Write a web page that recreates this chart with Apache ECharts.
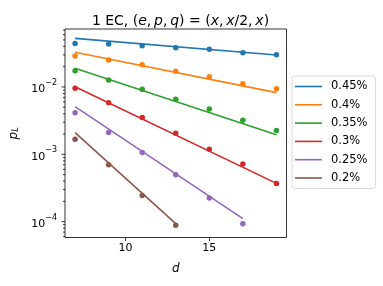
<!DOCTYPE html>
<html>
<head>
<meta charset="utf-8">
<script src="https://cdn.jsdelivr.net/npm/echarts@6/dist/echarts.min.js"></script>
<style>html,body{margin:0;padding:0;background:#fff}#c{width:383px;height:286px}</style>
</head>
<body>
<div id="c"></div>
<script>
// ---- data ----
var dValues = [7, 9, 11, 13, 15, 17, 19];
var seriesNames = ['0.45%', '0.4%', '0.35%', '0.3%', '0.25%', '0.2%'];
var p045 = [0.0443, 0.0434, 0.0409, 0.0382, 0.0362, 0.0322, 0.0301];
var p040 = [0.0288, 0.0251, 0.0214, 0.0171, 0.0142, 0.0112, 0.00944];
var p035 = [0.0174, 0.0127, 0.00924, 0.00657, 0.00472, 0.00321, 0.00225];
var p030 = [0.00957, 0.00585, 0.00351, 0.00206, 0.00119, 0.000716, 0.00037];
var p025 = [0.00416, 0.0021, 0.00106, 0.000497, 0.000224, 0.0000933];
var p020 = [0.00168, 0.000698, 0.000245, 0.0000881];
// fitted lines (straight on log scale): endpoints [d, value]
var fitD045 = [7, 19], fit045 = [0.0527, 0.0298];
var fitD040 = [7, 19], fit040 = [0.0327, 0.00824];
var fitD035 = [7, 19], fit035 = [0.0189, 0.00195];
var fitD030 = [7, 19], fit030 = [0.0101, 0.00037];
var fitD025 = [7, 17], fit025 = [0.0051, 0.000111];
var fitD020 = [7, 13], fit020 = [0.0021, 0.0000933];
var xTicks = [10, 15];
var yTickExps = [-4, -3, -2];

var colors = ['#1f77b4', '#ff7f0e', '#2ca02c', '#d62728', '#9467bd', '#8c564b'];
var pts = [p045, p040, p035, p030, p025, p020];
var fitDs = [fitD045, fitD040, fitD035, fitD030, fitD025, fitD020];
var fits = [fit045, fit040, fit035, fit030, fit025, fit020];

var xMin = 6.4, xMax = 19.6, yMin = 5.82e-5, yMax = 0.0726;
var FONT = 'DejaVu Sans';

function zip(a, b) { return b.map(function (v, i) { return [a[i], v]; }); }

var series = [];
for (var i = 0; i < 6; i++) {
  series.push({
    name: seriesNames[i], type: 'line', data: zip(fitDs[i], fits[i]),
    symbol: 'none', lineStyle: { color: colors[i], width: 1.6 }, itemStyle: { color: colors[i] },
    z: 2, silent: true, animation: false
  });
}
for (var i = 0; i < 6; i++) {
  series.push({
    name: seriesNames[i] + ' pts', type: 'scatter', data: zip(dValues, pts[i]),
    symbolSize: 5.5, itemStyle: { color: colors[i], opacity: 1 }, z: 3, silent: true, animation: false
  });
}
// y tick marks (major + minor) for the log axis
var tickData = [];
for (var e = -5; e <= -1; e++) {
  for (var m = 1; m <= 9; m++) {
    var v = m * Math.pow(10, e);
    if (v >= yMin && v <= yMax) tickData.push([xMin, v, m === 1 ? 1 : 0]);
  }
}
series.push({
  name: 'ticks', type: 'custom', data: tickData, silent: true, clip: false, animation: false,
  renderItem: function (params, api) {
    var p = api.coord([api.value(0), api.value(1)]);
    var len = api.value(2) ? 3.5 : 2;
    return { type: 'line', shape: { x1: p[0] - len, y1: p[1], x2: p[0], y2: p[1] },
      style: { stroke: '#000', lineWidth: 0.8 } };
  }
});

var chart = echarts.init(document.getElementById('c'), null, { renderer: 'canvas' });
chart.setOption({
  animation: false,
  backgroundColor: '#fff',
  title: {
    text: '1 EC, ({i|e},\u2009{i|p},\u2009{i|q}) = ({i|x},\u2009{i|x}/2,\u2009{i|x})',
    left: 175.5, top: 9, textAlign: 'center',
    textStyle: { fontFamily: FONT, fontSize: 14, fontWeight: 'normal', color: '#000',
      rich: { i: { fontFamily: FONT, fontSize: 14, fontStyle: 'italic', color: '#000' } } }
  },
  grid: { left: 64.5, right: 96.5, top: 29, bottom: 48.5, show: true, borderColor: '#000', borderWidth: 0.8, backgroundColor: 'transparent' },
  legend: {
    data: seriesNames, orient: 'vertical', left: 292, top: 76, selectedMode: false,
    icon: 'rect', itemWidth: 27, itemHeight: 1.6, itemGap: 5.3,
    padding: [4, 8, 4, 3],
    borderColor: '#d0d0d0', borderWidth: 0.8, borderRadius: 3, backgroundColor: '#fff',
    textStyle: { fontFamily: FONT, fontSize: 11.5, color: '#000', lineHeight: 13, padding: [0, 0, 0, 4] }
  },
  xAxis: {
    type: 'value', min: xMin, max: xMax,
    name: 'd', nameLocation: 'middle', nameGap: 25,
    nameTextStyle: { fontFamily: FONT, fontSize: 12, fontStyle: 'italic', color: '#000' },
    axisLine: { show: false },
    axisTick: { show: true, inside: false, length: 3.5, customValues: xTicks, lineStyle: { color: '#000', width: 0.8 } },
    axisLabel: { customValues: xTicks, fontFamily: FONT, fontSize: 11, color: '#000', margin: 5 },
    splitLine: { show: false }
  },
  yAxis: {
    type: 'log', logBase: 10, min: yMin, max: yMax,
    name: '{p|p}{s|L}', nameLocation: 'middle', nameGap: 45, nameRotate: 90,
    nameTextStyle: { fontFamily: FONT, color: '#000',
      rich: { p: { fontFamily: FONT, fontSize: 12, fontStyle: 'italic', lineHeight: 15, verticalAlign: 'bottom', color: '#000' },
              s: { fontFamily: FONT, fontSize: 8.5, fontStyle: 'italic', lineHeight: 15, verticalAlign: 'bottom', color: '#000' } } },
    axisLine: { show: false },
    axisTick: { show: false },
    axisLabel: {
      showMinLabel: false, showMaxLabel: false, margin: 8, fontFamily: FONT, color: '#000',
      formatter: function (v) {
        var e = Math.round(Math.log10(v));
        if (yTickExps.indexOf(e) < 0) return '';
        return '{b|10}{sup|\u2212' + Math.abs(e) + '}';
      },
      rich: { b: { fontFamily: FONT, fontSize: 11, lineHeight: 16, verticalAlign: 'bottom', color: '#000' },
              sup: { fontFamily: FONT, fontSize: 8, lineHeight: 16, verticalAlign: 'top', color: '#000' } }
    },
    splitLine: { show: false }
  },
  series: series
});
</script>
</body>
</html>
